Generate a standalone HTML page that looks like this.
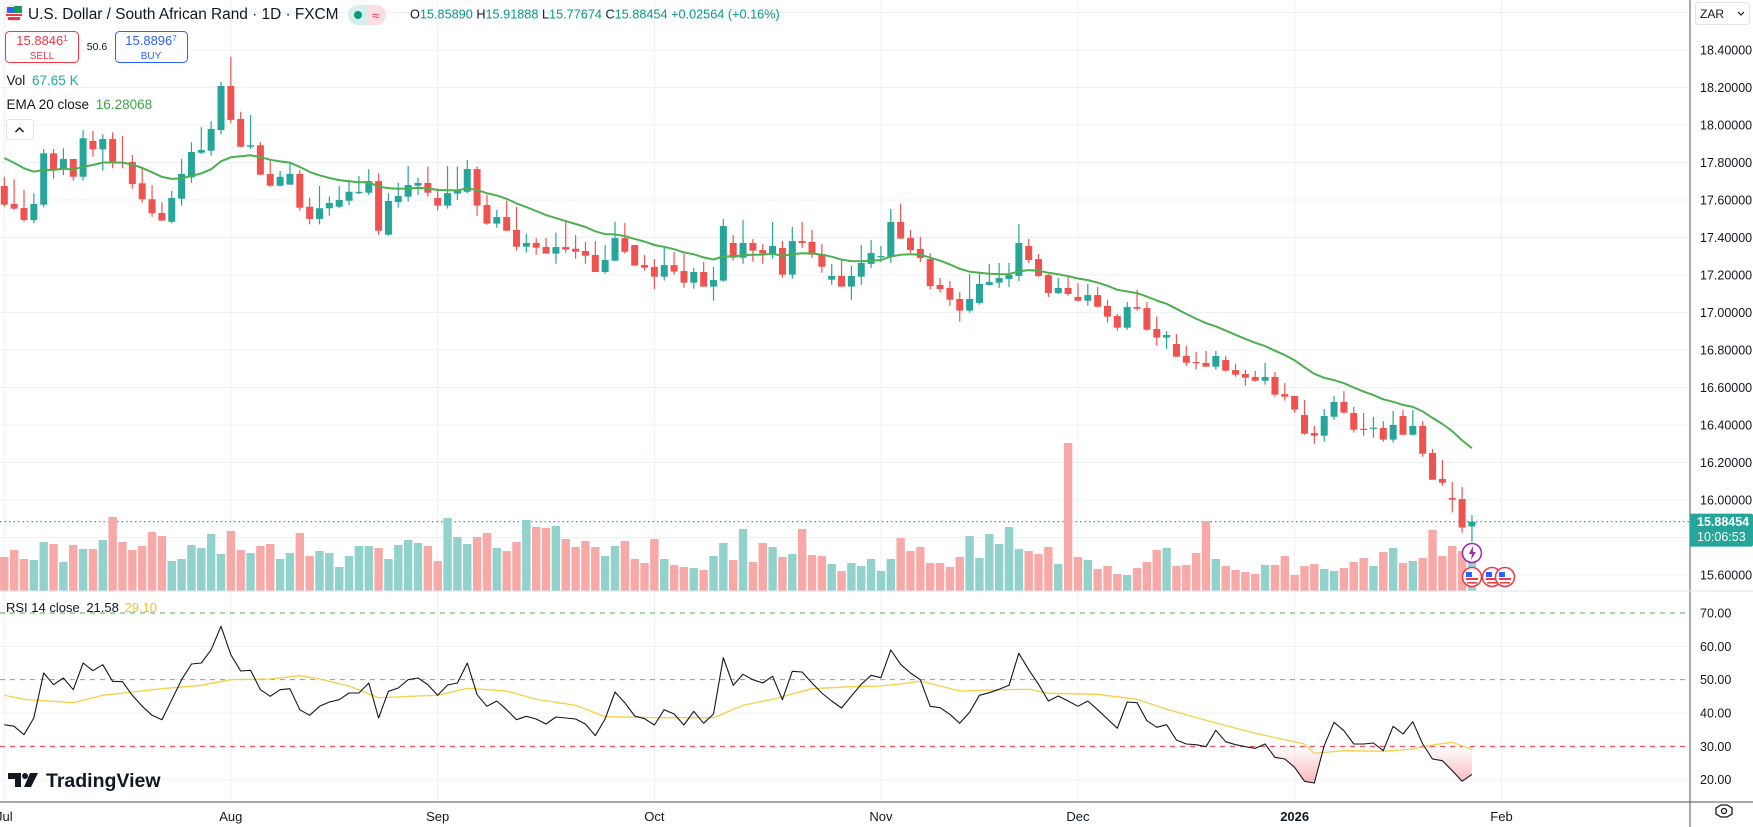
<!DOCTYPE html>
<html><head><meta charset="utf-8">
<style>
html,body{margin:0;padding:0;background:#fff;width:1753px;height:827px;overflow:hidden}
svg{display:block;font-family:"Liberation Sans",sans-serif}
</style></head>
<body>
<svg id="chart" width="1753" height="827" viewBox="0 0 1753 827" xmlns="http://www.w3.org/2000/svg">
<defs>
<linearGradient id="osGrad" gradientUnits="userSpaceOnUse" x1="0" y1="746" x2="0" y2="780">
<stop offset="0" stop-color="#f23645" stop-opacity="0"/>
<stop offset="1" stop-color="#f23645" stop-opacity="0.32"/>
</linearGradient>
<clipPath id="belowThirty"><rect x="0" y="746.3" width="1690" height="60"/></clipPath>
</defs>
<g id="grid"></g>
<g id="volume"></g>
<g id="candles"></g>
<g id="rsi"></g>
<g id="axes"></g>
<g id="legend">
  <g>
    <circle cx="14" cy="13" r="8" fill="#fff" stroke="#d7dbe3"/>
    <rect x="7" y="7" width="7" height="6" fill="#2962ff"/>
    <rect x="6" y="14" width="16" height="2" fill="#f23645"/>
    <rect x="14" y="6" width="8" height="7" fill="#1b9b5a"/>
    <rect x="8" y="17" width="12" height="3" fill="#f23645"/>
  </g>
  <text x="28" y="19" font-size="15.4" fill="#131722">U.S. Dollar / South African Rand · 1D · FXCM</text>
  <g>
    <rect x="348" y="5" width="38" height="20" rx="10" fill="#fbdde2"/>
    <path d="M358 5 h9 v20 h-9 a10 10 0 0 1 0 -20z" fill="#d6efec"/>
    <circle cx="358" cy="15" r="4" fill="#089981"/>
    <text x="372" y="20" font-size="13" fill="#f23645">≈</text>
  </g>
  <text x="410" y="18.5" font-size="12.7" fill="#089981"><tspan fill="#131722">O</tspan>15.85890 <tspan fill="#131722">H</tspan>15.91888 <tspan fill="#131722">L</tspan>15.77674 <tspan fill="#131722">C</tspan>15.88454 +0.02564 (+0.16%)</text>
  <g>
    <rect x="5.5" y="31.5" width="73" height="31" rx="4" fill="#fff" stroke="#f23645"/>
    <text x="42" y="45" font-size="13" fill="#f23645" text-anchor="middle">15.8846<tspan font-size="8" dy="-4">1</tspan></text>
    <text x="42" y="59" font-size="10" fill="#f23645" text-anchor="middle">SELL</text>
  </g>
  <text x="97" y="50" font-size="10.5" fill="#131722" text-anchor="middle">50.6</text>
  <g>
    <rect x="115.5" y="31.5" width="72" height="31" rx="4" fill="#fff" stroke="#2962ff"/>
    <text x="151" y="45" font-size="13" fill="#2962ff" text-anchor="middle">15.8896<tspan font-size="8" dy="-4">7</tspan></text>
    <text x="151" y="59" font-size="10" fill="#2962ff" text-anchor="middle">BUY</text>
  </g>
  <text x="6.5" y="85" font-size="13.5" fill="#131722">Vol <tspan fill="#22ab94" dx="3">67.65 K</tspan></text>
  <text x="6.5" y="109" font-size="13.5" fill="#131722">EMA 20 close <tspan fill="#43a047" dx="3">16.28068</tspan></text>
  <g>
    <rect x="6.5" y="119.5" width="27" height="20" rx="3" fill="#fff" stroke="#e0e3eb"/>
    <path d="M15.5 132 l4 -4 l4 4" fill="none" stroke="#131722" stroke-width="1.5"/>
  </g>
  <text x="6" y="612" font-size="13" fill="#131722">RSI 14 close <tspan dx="3">21.58</tspan> <tspan fill="#f7c22e" dx="2">29.10</tspan></text>
  <g>
    <path d="M8 773 h13 v14 h-6 v-8 h-7z" fill="#131722"/>
    <circle cx="25" cy="776" r="3" fill="#131722"/>
    <path d="M30 773 h8 l-7 14 h-7z" fill="#131722"/>
    <text x="46" y="787" font-size="19.5" font-weight="bold" fill="#131722">TradingView</text>
  </g>
  <g>
    <rect x="1695.5" y="2.5" width="54" height="22" rx="3" fill="#fff" stroke="#e0e3eb"/>
    <text x="1700" y="18" font-size="12" fill="#131722">ZAR</text>
    <path d="M1738 12 l3 3 l3 -3" fill="none" stroke="#131722" stroke-width="1.2"/>
  </g>
  <g>
    <path d="M1716 808 l5 -3 h6 l5 3 v6 l-5 3 h-6 l-5 -3z" fill="none" stroke="#131722" stroke-width="1.3"/>
    <circle cx="1724" cy="811" r="2.5" fill="none" stroke="#131722" stroke-width="1.3"/>
  </g>
</g>
<g id="events"></g>
</svg>
<script>
// ---- data ----
const months = ['Jul','Aug','Sep','Oct','Nov','Dec','2026','Feb'];
const monthIdx = [0,23,44,66,89,109,131,152];
const priceTicks = [18.4,18.2,18.0,17.8,17.6,17.4,17.2,17.0,16.8,16.6,16.4,16.2,16.0,15.6];
const priceGrid = [18.6,18.4,18.2,18.0,17.8,17.6,17.4,17.2,17.0,16.8,16.6,16.4,16.2,16.0,15.8,15.6];
const rsiTicks = [70,60,50,40,30,20];
const opens = [17.675,17.579,17.557,17.493,17.575,17.849,17.764,17.819,17.724,17.915,17.870,17.925,17.803,17.803,17.689,17.604,17.531,17.484,17.607,17.721,17.852,17.863,17.973,18.208,18.032,17.884,17.892,17.739,17.676,17.682,17.739,17.564,17.499,17.556,17.564,17.596,17.636,17.639,17.701,17.415,17.589,17.618,17.676,17.691,17.611,17.570,17.634,17.644,17.765,17.573,17.474,17.509,17.440,17.351,17.371,17.349,17.314,17.349,17.340,17.328,17.307,17.216,17.276,17.397,17.360,17.253,17.243,17.191,17.253,17.221,17.159,17.216,17.138,17.170,17.371,17.292,17.371,17.333,17.314,17.344,17.202,17.381,17.376,17.312,17.175,17.195,17.138,17.191,17.259,17.294,17.298,17.483,17.397,17.339,17.285,17.147,17.131,17.072,17.010,17.051,17.147,17.159,17.179,17.195,17.355,17.285,17.200,17.104,17.131,17.083,17.063,17.093,17.035,16.981,16.919,17.029,17.024,16.912,16.866,16.832,16.768,16.736,16.731,16.711,16.747,16.693,16.672,16.656,16.636,16.656,16.565,16.555,16.453,16.357,16.343,16.444,16.523,16.464,16.380,16.380,16.384,16.322,16.448,16.348,16.395,16.251,16.112,16.011,16.005,15.8589];
const highs = [17.724,17.710,17.653,17.636,17.872,17.872,17.876,17.819,17.973,17.968,17.950,17.961,17.941,17.840,17.769,17.680,17.588,17.648,17.819,17.908,17.988,18.021,18.231,18.364,18.071,18.053,17.909,17.810,17.755,17.799,17.760,17.612,17.675,17.618,17.675,17.707,17.728,17.765,17.742,17.636,17.692,17.781,17.719,17.778,17.662,17.781,17.778,17.813,17.778,17.627,17.547,17.596,17.563,17.419,17.397,17.397,17.426,17.484,17.413,17.376,17.381,17.360,17.484,17.477,17.360,17.307,17.285,17.346,17.323,17.312,17.237,17.269,17.243,17.499,17.413,17.493,17.392,17.365,17.483,17.381,17.456,17.483,17.440,17.365,17.259,17.287,17.248,17.360,17.387,17.355,17.552,17.579,17.440,17.403,17.317,17.184,17.168,17.109,17.205,17.216,17.259,17.264,17.264,17.472,17.392,17.312,17.205,17.184,17.195,17.157,17.152,17.136,17.068,16.992,17.056,17.120,17.056,16.978,16.901,16.885,16.821,16.789,16.795,16.795,16.768,16.725,16.693,16.688,16.731,16.683,16.624,16.555,16.533,16.395,16.485,16.555,16.581,16.496,16.464,16.443,16.421,16.475,16.480,16.480,16.421,16.272,16.213,16.096,16.069,15.91888];
const lows = [17.564,17.547,17.484,17.476,17.561,17.714,17.733,17.703,17.703,17.831,17.756,17.769,17.769,17.660,17.586,17.511,17.490,17.476,17.570,17.692,17.844,17.836,17.950,18.009,17.881,17.872,17.733,17.671,17.671,17.680,17.543,17.470,17.470,17.516,17.556,17.573,17.632,17.627,17.413,17.410,17.559,17.591,17.627,17.618,17.543,17.554,17.600,17.636,17.516,17.468,17.452,17.436,17.330,17.319,17.308,17.314,17.260,17.319,17.287,17.260,17.216,17.207,17.276,17.314,17.250,17.223,17.125,17.170,17.202,17.132,17.127,17.138,17.063,17.164,17.276,17.260,17.271,17.260,17.287,17.186,17.180,17.344,17.292,17.212,17.148,17.138,17.068,17.147,17.237,17.269,17.264,17.394,17.317,17.269,17.125,17.106,17.036,16.951,16.999,17.042,17.143,17.131,17.136,17.168,17.264,17.189,17.083,17.099,17.090,17.058,17.036,17.026,16.946,16.903,16.908,17.010,16.903,16.823,16.807,16.764,16.716,16.695,16.711,16.695,16.684,16.658,16.610,16.631,16.615,16.551,16.530,16.466,16.348,16.300,16.311,16.427,16.460,16.359,16.343,16.332,16.311,16.306,16.348,16.343,16.231,16.108,16.076,15.933,15.826,15.77674];
const closes = [17.575,17.554,17.493,17.579,17.849,17.764,17.819,17.724,17.929,17.870,17.925,17.799,17.796,17.685,17.604,17.529,17.490,17.611,17.739,17.856,17.867,17.979,18.208,18.027,17.884,17.892,17.735,17.676,17.724,17.739,17.559,17.499,17.556,17.584,17.600,17.644,17.644,17.701,17.436,17.595,17.621,17.680,17.691,17.639,17.570,17.637,17.650,17.765,17.570,17.474,17.509,17.436,17.351,17.371,17.346,17.314,17.349,17.335,17.324,17.303,17.216,17.280,17.397,17.324,17.250,17.239,17.191,17.253,17.218,17.159,17.216,17.138,17.173,17.461,17.292,17.371,17.330,17.314,17.355,17.202,17.381,17.371,17.308,17.244,17.195,17.138,17.195,17.264,17.317,17.301,17.483,17.394,17.333,17.291,17.141,17.125,17.068,17.010,17.072,17.152,17.163,17.184,17.200,17.371,17.280,17.195,17.104,17.131,17.099,17.063,17.093,17.031,16.978,16.919,17.029,17.020,16.908,16.866,16.880,16.764,16.732,16.731,16.711,16.768,16.690,16.668,16.652,16.636,16.656,16.562,16.551,16.482,16.354,16.343,16.448,16.523,16.466,16.375,16.375,16.386,16.322,16.400,16.348,16.395,16.247,16.108,16.092,16.002,15.853,15.88454];
const volumes = [68,82,64,62,98,94,58,92,84,84,102,148,98,82,90,118,110,60,64,92,86,114,74,120,82,76,90,94,64,76,116,70,80,76,48,70,90,90,86,64,92,102,96,90,60,146,108,94,108,116,86,80,98,142,128,126,130,104,88,100,88,70,90,100,64,56,104,64,52,48,46,42,70,96,62,124,58,96,88,68,74,124,72,70,54,40,56,50,64,40,64,106,80,88,56,56,48,68,110,66,114,94,128,84,80,74,88,54,296,68,62,44,50,34,32,46,58,82,86,50,52,76,140,64,50,42,38,34,52,52,70,32,50,54,44,40,46,58,66,50,78,86,56,60,66,122,70,90,80,67.65];
const rsiValues = [36.5,36,33.5,38.5,52,48.5,50.5,47,55,52.7,54.5,49.5,49.4,45.3,42,39.3,38,44,50,54.7,55,59,66,57.5,52.6,52.8,47,45,47,47.3,41,39.3,42,43.3,44,46,46,49,38.5,46.5,47.5,50,50.5,48.5,45.3,48.4,49,55,45.5,42,43.6,41,38,39,38.2,36.7,38.8,38.5,38.2,36.7,33.2,38.2,46.3,43.1,39.1,38.3,36.4,41,39.7,36.4,40.5,36.9,39.7,56.6,48.3,51.6,50,49,51,44,52.5,52.3,49,46,43.6,41.5,45.1,48.6,51.3,50.6,58.9,54.6,52,50,42,41.6,39.6,36.9,40.2,45.3,46.1,47.1,48.3,57.9,53,48.6,43.6,45.1,43.6,42,43.6,41,38.2,35.4,43.3,43.1,37.7,35.7,36.5,31.9,30.7,30.5,29.9,34.8,31.4,30.5,29.9,29.4,30.7,26.7,26.2,23.7,19.5,19,30.2,37.2,34.7,30.7,30.7,31,28.7,36,33.7,37.4,30.7,26.2,25.7,22.7,19.5,21.58];
const rsiMaIdx = [0,2,7,10,16,20,23,27,30,32,35,38,42,44,47,51,54,58,61,66,72,75,78,82,86,89,92,93,97,100,104,106,111,115,118,123,127,132,133,136,140,143,145,147,149];
const rsiMaValues = [45.3,44.1,43.1,45.3,47.3,48.3,50,50.2,51.2,50.2,48.1,44.6,45.1,45.3,47.4,46.6,44.1,42.3,38.9,38.6,38.6,42.3,44.1,47.3,47.9,48.1,49.1,49.6,46.6,46.9,47.1,45.9,45.6,44.1,41.1,37,33.9,30.7,27.9,28.7,28.5,29.2,30.4,31.2,29.1];
const emaLength = 20;
const emaSeed = 17.85;
const lastPrice = 15.88454;

// ---- scales ----
const NS='http://www.w3.org/2000/svg';
const PLOT_R=1690, MAIN_B=591, RSI_B=802;
function xAt(i){return 4.3+i*9.85;}
function yPrice(p){return 50+(18.4-p)*187.5;}
function yRsi(v){return 613+(70-v)*3.333;}
function hVol(v){return v*0.5;}
function mk(tag,attrs,parent){const e=document.createElementNS(NS,tag);for(const k in attrs)e.setAttribute(k,attrs[k]);parent.appendChild(e);return e;}

const grid=document.getElementById('grid');
const axes=document.getElementById('axes');
priceGrid.forEach(p=>{const l=mk('line',{x1:0,x2:PLOT_R,y1:yPrice(p),y2:yPrice(p),stroke:'#edf0f5','stroke-width':1},grid);

});
[60,40,20].forEach(v=>{const l=mk('line',{x1:0,x2:PLOT_R,y1:yRsi(v),y2:yRsi(v),stroke:'#edf0f5'},grid);

});
monthIdx.forEach((m,k)=>{const x=xAt(m);const l=mk('line',{x1:x,x2:x,y1:0,y2:RSI_B,stroke:'#edf0f5'},grid);


const t=mk('text',{x:x,y:821,'font-size':13,fill:'#131722','text-anchor':'middle','font-weight':months[k]==='2026'?'bold':'normal'},axes);
t.textContent=months[k];

});

const volG=document.getElementById('volume');
volumes.forEach((v,i)=>{const up=closes[i]>=opens[i];const h=hVol(v);
const r=mk('rect',{x:xAt(i)-4.2,y:MAIN_B-h,width:8.4,height:h,fill:up?'#92d2cc':'#f7a9a7'},volG);

});

const cp=mk('line',{x1:0,x2:PLOT_R,y1:yPrice(lastPrice),y2:yPrice(lastPrice),stroke:'#26a69a','stroke-dasharray':'1.5,3','stroke-width':1.2},grid);



const cG=document.getElementById('candles');
opens.forEach((o,i)=>{const c=closes[i];const up=c>=o;const col=up?'#26a69a':'#ef5350';const x=xAt(i);
const w=mk('line',{x1:x,x2:x,y1:yPrice(highs[i]),y2:yPrice(lows[i]),stroke:col,'stroke-width':1.2},cG);


const top=yPrice(Math.max(o,c)),bot=yPrice(Math.min(o,c));
const b=mk('rect',{x:x-3.5,y:top,width:7,height:Math.max(1.2,bot-top),fill:col},cG);

});

let ema=emaSeed;const alpha=2/(emaLength+1);const emaPts=[];
closes.forEach((c,i)=>{ema=ema+alpha*(c-ema);emaPts.push(xAt(i).toFixed(1)+','+yPrice(ema).toFixed(1));});
const emaLine=mk('polyline',{points:emaPts.join(' '),fill:'none',stroke:'#4caf50','stroke-width':2,'stroke-linejoin':'round'},cG);



const rG=document.getElementById('rsi');
[[70,'#4caf50'],[50,'#9598a1'],[30,'#f23645']].forEach(([v,c])=>{const l=mk('line',{x1:0,x2:PLOT_R,y1:yRsi(v),y2:yRsi(v),stroke:c,'stroke-dasharray':'5,5','stroke-width':1},rG);

});
const rsiPts=rsiValues.map((v,i)=>xAt(i).toFixed(1)+','+yRsi(v).toFixed(1));
const fillPts=xAt(0)+','+yRsi(30)+' '+rsiPts.join(' ')+' '+xAt(rsiValues.length-1)+','+yRsi(30);
const os=mk('polygon',{points:fillPts,fill:'url(#osGrad)','clip-path':'url(#belowThirty)'},rG);


const maPts=rsiMaIdx.map((ix,k)=>xAt(ix).toFixed(1)+','+yRsi(rsiMaValues[k]).toFixed(1));
const ma=mk('polyline',{points:maPts.join(' '),fill:'none',stroke:'#f7d046','stroke-width':1.3},rG);


const rl=mk('polyline',{points:rsiPts.join(' '),fill:'none',stroke:'#131722','stroke-width':1.1,'stroke-linejoin':'round'},rG);



const fr=[[PLOT_R,0,PLOT_R,RSI_B,'#50535e'],[0,RSI_B,1753,RSI_B,'#50535e'],[0,MAIN_B,1753,MAIN_B,'#e0e3eb'],[PLOT_R,RSI_B,PLOT_R,827,'#50535e']];
fr.forEach(f=>{const l=mk('line',{x1:f[0],y1:f[1],x2:f[2],y2:f[3],stroke:f[4],'stroke-width':1},axes);

});
priceTicks.forEach(p=>{const t=mk('text',{x:1700,y:yPrice(p)+4.5,'font-size':12.5,fill:'#131722'},axes);t.textContent=p.toFixed(5);

});
rsiTicks.forEach(v=>{const t=mk('text',{x:1700,y:yRsi(v)+4.5,'font-size':12.5,fill:'#131722'},axes);t.textContent=v.toFixed(2);

});
const tagY=yPrice(lastPrice);
const tag=mk('rect',{x:PLOT_R,y:tagY-8,width:63,height:33,rx:2,fill:'#26a69a'},axes);


const t1=mk('text',{x:1697,y:tagY+4.5,'font-size':12.5,'font-weight':'bold',fill:'#fff'},axes);t1.textContent=lastPrice.toFixed(5);


const t2=mk('text',{x:1697,y:tagY+19.5,'font-size':12.5,fill:'#fff'},axes);t2.textContent='10:06:53';



const ev=document.getElementById('events');
const lx=xAt(closes.length-1);
const bolt=mk('circle',{cx:lx,cy:553,r:9.5,fill:'#fff',stroke:'#9c27b0','stroke-width':1.5},ev);


const bp=mk('path',{d:`M${lx+1} ${546} l-4 8 h3 l-1 6 l5 -8 h-3z`,fill:'#9c27b0'},ev);


[0,20,33].forEach(dx=>{const g=mk('g',{},ev);


mk('circle',{cx:lx+dx,cy:577,r:9.5,fill:'#fff',stroke:'#f23645','stroke-width':1.5},g);
mk('rect',{x:lx+dx-6,y:572,width:6,height:5,fill:'#2962ff'},g);
mk('rect',{x:lx+dx-6,y:578,width:12,height:2,fill:'#f23645'},g);
mk('rect',{x:lx+dx-5,y:582,width:10,height:1.5,fill:'#f23645'},g);});
</script>
</body></html>
